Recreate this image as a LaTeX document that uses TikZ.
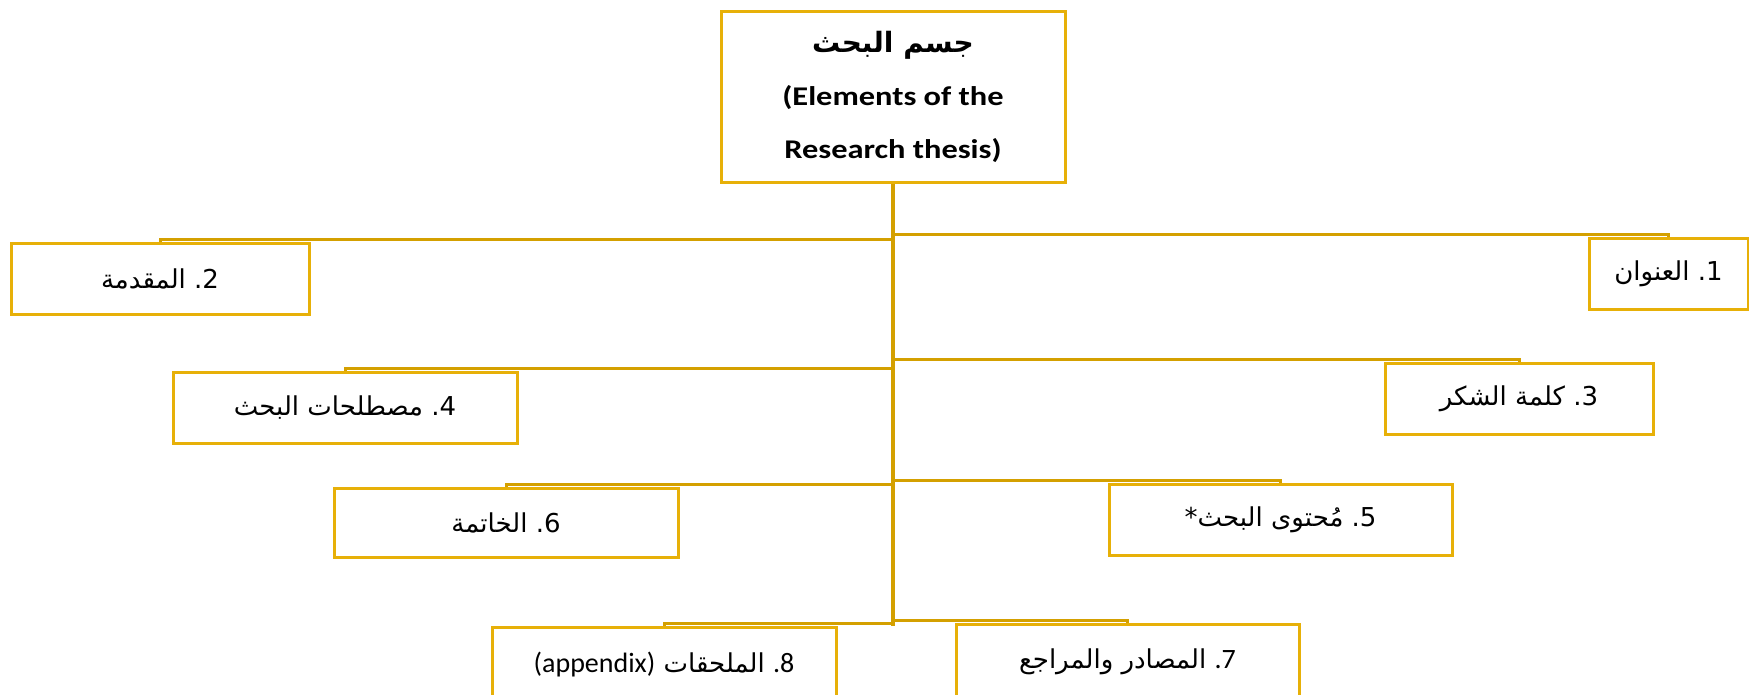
\documentclass[tikz,border=0pt]{standalone}
\usepackage{fontspec}
\setmainfont{DejaVu Sans}
\newfontfamily\arfont[Script=Arabic]{DejaVu Sans}
\newfontfamily\numfont{DejaVu Sans}
\newfontfamily\enfont{Carlito}
\newfontfamily\enwide[FakeStretch=1.2]{Carlito}
\TeXXeTstate=1
\definecolor{boxgold}{RGB}{231,176,8}
\definecolor{linegold}{RGB}{212,160,0}
\begin{document}
\begin{tikzpicture}[x=1pt,y=-1pt,
  box/.style={draw=boxgold, line width=3pt, rectangle, minimum height=71pt, inner sep=0pt,
    font=\arfont\fontsize{26}{30}\selectfont},
  conn/.style={draw=linegold, line width=3pt},
  trunkline/.style={draw=linegold, line width=4pt}]
\useasboundingbox (0,0) rectangle (1749,694);
\fill[white] (0,0) rectangle (1749,694);
% title box
\node[box, minimum width=344pt, minimum height=171pt, align=center,
  font=\enwide\bfseries\fontsize{27}{53}\selectfont] (top) at (893,96.5)
  {{\arfont\bfseries\fontsize{28}{53}\selectfont\beginR جسم البحث\endR}\\(Elements of the\\Research thesis)};
\coordinate (trunk) at (893,625.5);
% boxes
\node[box, minimum width=159pt] (b1) at (1668.5,273.5) {\beginR العنوان\endR\ {\numfont .1}};
\node[box, minimum width=298pt] (b2) at (160,278.5) {\beginR المقدمة\endR\ {\numfont .2}};
\node[box, minimum width=268pt] (b3) at (1519,398.5) {\beginR كلمة الشكر\endR\ {\numfont .3}};
\node[box, minimum width=344pt] (b4) at (345,407.5) {\beginR مصطلحات البحث\endR\ {\numfont .4}};
\node[box, minimum width=343pt] (b5) at (1280.5,519.5) {{\numfont *}\beginR مُحتوى البحث\endR\ {\numfont .5}};
\node[box, minimum width=344pt, minimum height=69pt] (b6) at (506,522.5) {\beginR الخاتمة\endR\ {\numfont .6}};
\node[box, minimum width=343pt, minimum height=75pt] (b7) at (1127.5,661.5) {\beginR المصادر والمراجع\endR\ {\enfont\fontsize{28}{30}\selectfont .7}};
\node[box, minimum width=344pt, minimum height=75pt] (b8) at (664,664.5) {{\enfont\fontsize{28}{30}\selectfont (appendix)} \beginR الملحقات\endR\ {\enfont\fontsize{28}{30}\selectfont .8}};
% connectors
\draw[trunkline] (top.south) -- (trunk);
\foreach \b in {b1,b2,b3,b4,b5,b6,b7,b8}
  \draw[conn] (\b.north) |- ([yshift=2.5pt]top.south |- \b.north);
\end{tikzpicture}
\end{document}
